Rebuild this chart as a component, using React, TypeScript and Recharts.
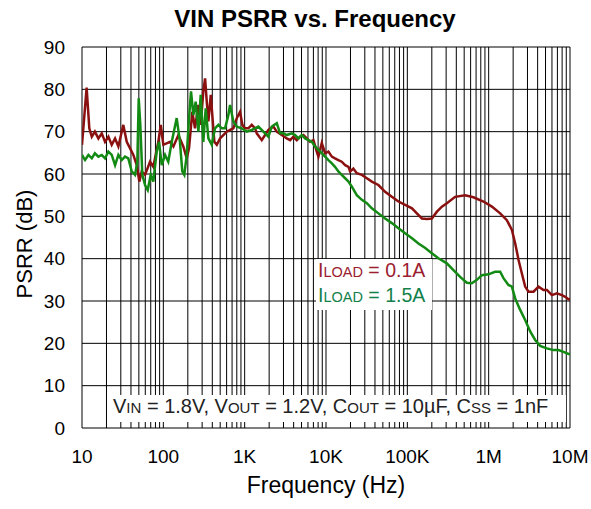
import { LineChart, Line, XAxis, YAxis, CartesianGrid } from 'recharts'

// frequency (Hz) / PSRR (dB)
const RED_FREQ = [
  10, 11.4, 12.3, 13.2, 14.4, 15.9, 17.5, 19.2, 21.1, 23.2, 25.5, 28, 32.2, 35.5, 38.9, 42.8, 47.1, 50.7,
  54.2, 59.6, 68.6, 75.3, 86.8, 92.9, 100, 121, 133, 153, 176, 194, 207, 227, 245, 270, 288, 310, 326, 342,
  358, 383, 424, 454, 498, 547, 602, 661, 726, 800, 878, 937, 1010, 1110, 1222, 1343, 1408, 1623, 1782, 1957,
  2254, 2482, 2860, 3295, 3618, 3972, 4374, 4802, 5272, 5803, 6372, 6998, 7704, 8064, 8877, 9747, 10700,
  11800, 12900, 14200, 15600, 17200, 18900, 19800, 21700, 23900, 27600, 31800, 36600, 44100, 53300, 64500,
  77700, 94000, 114000, 131000, 151000, 174000, 200000, 231000, 266000, 306000, 387000, 514000, 650000,
  863000, 1095000, 1385000, 1674000, 1930000, 2120000, 2330000, 2560000, 2810000, 3090000, 3560000, 4100000,
  4720000, 5200000, 5990000, 6900000, 7950000, 8730000, 9580000, 10000000,
]
const RED_DB = [
  66.9, 80.4, 70.8, 68.8, 70, 68.4, 69.6, 67.6, 68.8, 66.9, 68.4, 66.5, 71.6, 67.6, 66.1, 64.5, 62.1, 58.2,
  60.6, 59.8, 62.9, 61.7, 67.6, 71.6, 66.9, 67.6, 66.5, 69.2, 66.5, 63.7, 66.1, 74.7, 70.8, 76.3, 71.6, 79.5,
  82.6, 77.1, 72.4, 78.7, 67.6, 66.9, 68.4, 69.2, 70, 70.4, 70.8, 73.2, 74.7, 71.6, 70.8, 70.8, 71.6, 70.8,
  69.6, 68, 69.2, 70.4, 71.2, 70, 69.2, 68.4, 68, 68.8, 68, 68.8, 69.2, 68.4, 67.6, 68, 65.3, 64.1, 67.3, 64.9,
  65.3, 64.1, 63.7, 63.3, 62.9, 62.1, 61.7, 60.6, 61.3, 60.2, 59.8, 59, 58.2, 57.4, 55.8, 54.6, 53.5, 52.7,
  51.9, 50.7, 49.5, 49.4, 49.5, 51.1, 52.3, 53.1, 54.6, 55, 54.5, 53.5, 52.3, 50.7, 49.1, 46.8, 43.6, 39.7,
  36.5, 33.4, 32.2, 32.2, 33.4, 32.6, 32.6, 31.4, 31.8, 31.4, 31, 30.4, 30.4,
]

const GREEN_FREQ = [
  10, 10.9, 12, 13.2, 14.4, 15.9, 17.5, 19.2, 21.1, 23.2, 25.5, 28, 30.8, 33.8, 37.1, 40.9, 44.9, 47.9, 49.8,
  52.1, 55.2, 59.6, 64.3, 70, 75.3, 82.9, 88.5, 95.6, 105, 115, 127, 146, 160, 171, 181, 194, 207, 219, 234,
  250, 270, 288, 310, 332, 358, 394, 432, 475, 523, 574, 630, 661, 726, 800, 921, 1061, 1222, 1474, 1698,
  1957, 2154, 2482, 2725, 2992, 3295, 3796, 4169, 4577, 5039, 5533, 6074, 6688, 7342, 8064, 8877, 9747,
  10700, 11800, 12900, 14200, 15600, 17200, 18900, 20800, 23900, 27600, 31800, 36600, 44100, 53300, 64500,
  77700, 94000, 114000, 137000, 166000, 200000, 241000, 306000, 369000, 446000, 539000, 622000, 716000,
  825000, 994000, 1200000, 1385000, 1520000, 1750000, 1930000, 2120000, 2440000, 2810000, 3240000, 3730000,
  4300000, 5200000, 6270000, 7220000, 8320000, 9580000, 10000000,
]
const GREEN_DB = [
  64.5, 63.3, 64.5, 63.7, 64.9, 64.1, 64.5, 63.7, 65.3, 64.5, 62.1, 64.5, 63.3, 64.1, 63.7, 60.6, 59.8, 62.9,
  77.9, 71.6, 59.8, 57.4, 56.2, 59.8, 58.2, 65.3, 67.6, 62.1, 64.5, 62.9, 67.6, 73.2, 67.6, 60.6, 59.8, 64.5,
  73.2, 79.5, 73.9, 77.1, 70, 78.7, 67.6, 75.5, 68.4, 66.9, 70.8, 71.6, 70.8, 70.8, 73.9, 76.3, 72.4, 71.2,
  70.8, 70, 70.4, 71.2, 70, 68.8, 71.2, 72, 69.6, 69.6, 69.2, 69.6, 69.2, 68.4, 69.2, 68.4, 68, 67.6, 66.5,
  65.7, 64.9, 64.1, 63.3, 62.5, 61.7, 60.6, 59.8, 59, 58.2, 57, 55, 53.9, 53.1, 51.9, 50.7, 49.5, 48.4, 47.2,
  46, 44.8, 43.6, 42.5, 41.3, 40.1, 38.9, 37.3, 35.7, 34.3, 34.2, 35, 36.1, 36.3, 36.9, 36.9, 35.4, 33.8,
  33.4, 30.6, 27.9, 25.5, 22.8, 20.8, 19.4, 18.8, 18.4, 18.4, 18, 17.5, 17.5,
]

const X_TICKS = [10, 100, 1e3, 1e4, 1e5, 1e6, 1e7]
const X_LABELS = ['10', '100', '1K', '10K', '100K', '1M', '10M']
const Y_TICKS = [0, 10, 20, 30, 40, 50, 60, 70, 80, 90]
const MINOR = [1, 2, 3, 4, 5, 6, 7, 8, 9]
const GRID_FREQS = [...X_TICKS.slice(0, -1).flatMap((d) => MINOR.map((m) => d * m)), 1e7]

const redData = RED_FREQ.map((f, i) => ({ f, v: RED_DB[i] }))
const greenData = GREEN_FREQ.map((f, i) => ({ f, v: GREEN_DB[i] }))

const RED = '#8b1010'
const GREEN = '#138a13'
const FONT = '"Liberation Sans", Arial, sans-serif'

export default function App() {
  return (
    <div style={{ position: 'absolute', left: 0, top: 0, width: 591, height: 509, background: '#fff', fontFamily: FONT }}>
      <LineChart width={591} height={509} margin={{ top: 47, right: 21, bottom: 0, left: 0 }}>
        <CartesianGrid stroke="#000" strokeWidth={1} verticalValues={GRID_FREQS} />
        <XAxis
          type="number"
          dataKey="f"
          scale="log"
          domain={[10, 1e7]}
          allowDataOverflow
          ticks={X_TICKS}
          interval={0}
          tickFormatter={(v: number) => X_LABELS[X_TICKS.indexOf(v)] ?? ''}
          height={81}
          axisLine={false}
          tickLine={false}
          tickSize={0}
          tickMargin={22}
          tick={{ fontSize: 19, fill: '#000' }}
        />
        <YAxis
          type="number"
          domain={[0, 90]}
          ticks={Y_TICKS}
          interval={0}
          width={82}
          axisLine={false}
          tickLine={false}
          tickSize={0}
          tickMargin={17}
          tick={{ fontSize: 19, fill: '#000' }}
        />
        <Line data={redData} dataKey="v" stroke={RED} strokeWidth={2.5} dot={false} isAnimationActive={false} />
        <Line data={greenData} dataKey="v" stroke={GREEN} strokeWidth={2.5} dot={false} isAnimationActive={false} />
      </LineChart>

      <svg width={591} height={509} style={{ position: 'absolute', left: 0, top: 0, pointerEvents: 'none' }}>
        <text x={315} y={27} textAnchor="middle" fontWeight="bold" fontSize={24} fill="#000">
          VIN PSRR vs. Frequency
        </text>
        <text transform="translate(32,244) rotate(-90)" textAnchor="middle" fontSize={22} fill="#000">
          PSRR (dB)
        </text>
        <text x={326} y={493} textAnchor="middle" fontSize={23} fill="#000">
          Frequency (Hz)
        </text>

        <rect x={316} y={259} width={116} height={51} fill="#fff" />
        <text x={318} y={277} fontSize={19.5} fill="#9a2030">
          I<tspan fontSize={14.5}>LOAD</tspan> = 0.1A
        </text>
        <text x={318} y={302} fontSize={19.5} fill="#13804a">
          I<tspan fontSize={14.5}>LOAD</tspan> = 1.5A
        </text>

        <rect x={107} y={395} width={459} height={27} fill="#fff" />
        <text x={113} y={413} fontSize={20} fill="#222">
          V<tspan fontSize={15}>IN</tspan> = 1.8V, V<tspan fontSize={15}>OUT</tspan> = 1.2V, C
          <tspan fontSize={15}>OUT</tspan> = 10µF, C<tspan fontSize={15}>SS</tspan> = 1nF
        </text>
      </svg>
    </div>
  )
}
